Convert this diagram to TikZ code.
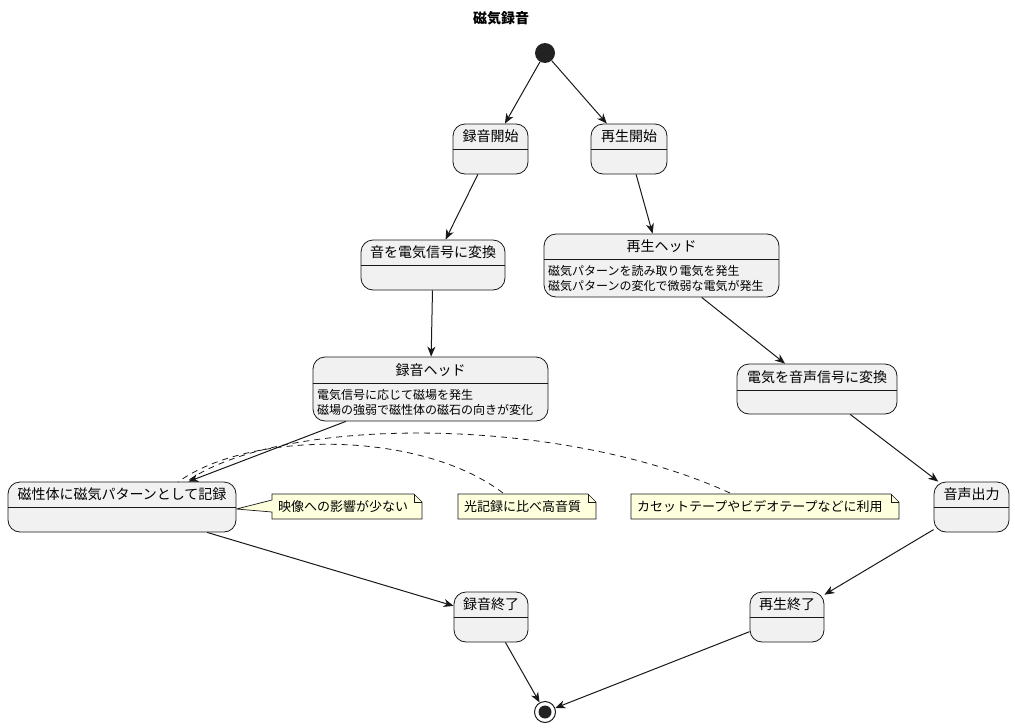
\documentclass[tikz,border=0pt]{standalone}
\usepackage{fontspec}
\setmainfont{Noto Sans CJK JP}
\usetikzlibrary{arrows.meta,backgrounds}
\definecolor{stfill}{HTML}{F1F1F1}
\definecolor{ln}{HTML}{181818}
\definecolor{dot}{HTML}{222222}
\definecolor{notefill}{HTML}{FEFFDD}
\tikzset{
 state/.style={draw=ln, fill=stfill, rounded corners=12pt, line width=0.8pt, inner sep=0},
 sttitle/.style={font=\fontsize{14}{16}\selectfont, inner sep=0},
 stdesc/.style={font=\fontsize{12}{15}\selectfont, align=left, anchor=west, inner sep=0},
 sepline/.style={draw=ln, line width=0.8pt},
 trans/.style={draw=ln, line width=1pt, -{Stealth[length=10pt,width=8pt,inset=3pt]}},
 notetext/.style={font=\fontsize{13}{15}\selectfont, anchor=west, inner sep=0},
 noteshape/.style={draw=ln, fill=notefill, line width=0.7pt},
 notelink/.style={draw=ln, line width=0.8pt, dash pattern=on 6pt off 5pt},
}
\begin{document}
\begin{tikzpicture}[x=1pt,y=-1pt]
\useasboundingbox (0,0) rectangle (1015,728);
% title
\node[font=\fontsize{14}{16}\selectfont\bfseries, inner sep=0] (title) at (501,18) {磁気録音};
% start / end
\node[circle, fill=dot, minimum size=20pt, inner sep=0] (start) at (545,53) {};
\node[circle, draw=ln, line width=1pt, minimum size=21pt, inner sep=0] (end) at (545,712) {};
\fill[dot] (end.center) circle (6.5pt);
% states
\node[state, minimum width=75pt, minimum height=50pt] (rs) at (490.5,149) {};
\draw[sepline] (rs.west |- 0,149) -- (rs.east |- 0,149);
\node[sttitle] (rst) at (490.5,136) {録音開始};

\node[state, minimum width=76pt, minimum height=50pt] (ps) at (629,149) {};
\draw[sepline] (ps.west |- 0,149) -- (ps.east |- 0,149);
\node[sttitle] (pst) at (629,136) {再生開始};

\node[state, minimum width=144pt, minimum height=50pt] (conv) at (433,265) {};
\draw[sepline] (conv.west |- 0,265) -- (conv.east |- 0,265);
\node[sttitle] (convt) at (433,252.5) {音を電気信号に変換};

\node[state, minimum width=235pt, minimum height=63pt] (ph) at (661.5,265.5) {};
\draw[sepline] (ph.west |- 0,259) -- (ph.east |- 0,259);
\node[sttitle] (pht) at (661.5,246) {再生ヘッド};
\node[stdesc] (phd) at (548,278.5) {磁気パターンを読み取り電気を発生\\磁気パターンの変化で微弱な電気が発生};

\node[state, minimum width=235pt, minimum height=64pt] (rh) at (430.5,389) {};
\draw[sepline] (rh.west |- 0,383) -- (rh.east |- 0,383);
\node[sttitle] (rht) at (430.5,370) {録音ヘッド};
\node[stdesc] (rhd) at (317,402.5) {電気信号に応じて磁場を発生\\磁場の強弱で磁性体の磁石の向きが変化};

\node[state, minimum width=160pt, minimum height=50pt] (denki) at (817,389) {};
\draw[sepline] (denki.west |- 0,390) -- (denki.east |- 0,390);
\node[sttitle] (denkit) at (817,377) {電気を音声信号に変換};

\node[state, minimum width=228pt, minimum height=50pt] (ms) at (122,507) {};
\draw[sepline] (ms.west |- 0,507) -- (ms.east |- 0,507);
\node[sttitle] (mst) at (122,494) {磁性体に磁気パターンとして記録};

\node[state, minimum width=75pt, minimum height=50pt] (out) at (971.5,507) {};
\draw[sepline] (out.west |- 0,507) -- (out.east |- 0,507);
\node[sttitle] (outt) at (971.5,494) {音声出力};

\node[state, minimum width=74pt, minimum height=50pt] (re) at (491,617) {};
\draw[sepline] (re.west |- 0,617) -- (re.east |- 0,617);
\node[sttitle] (ret) at (491,604.5) {録音終了};

\node[state, minimum width=74pt, minimum height=50pt] (pe) at (787,617) {};
\draw[sepline] (pe.west |- 0,617) -- (pe.east |- 0,617);
\node[sttitle] (pet) at (787,604.5) {再生終了};

% transitions
\draw[trans] (start) -- (rs);
\draw[trans] (start) -- (ps);
\draw[trans] (rs) -- (conv);
\draw[trans] (conv) -- (rh);
\draw[trans] (rh) -- (ms);
\draw[trans] (ms) -- (re);
\draw[trans] (re) -- (end);
\draw[trans] (ps) -- (ph);
\draw[trans] (ph) -- (denki);
\draw[trans] (denki) -- (out);
\draw[trans] (out) -- (pe);
\draw[trans] (pe) -- (end);

% notes
\node[notetext] (n1) at (278,506.5) {映像への影響が少ない};
\node[notetext] (n2) at (464,506.5) {光記録に比べ高音質};
\node[notetext] (n3) at (637,506.5) {カセットテープやビデオテープなどに利用};
\begin{scope}[on background layer]
\filldraw[noteshape] (272,494) -- (414,494) -- (422,502) -- (422,519) -- (272,519) -- (272,512) -- (ms.east |- 0,509) -- (272,500) -- cycle;
\draw[noteshape, fill=none] (414,494) -- (414,502) -- (422,502);
\filldraw[noteshape] (458,494) -- (588,494) -- (596,502) -- (596,519) -- (458,519) -- cycle;
\draw[noteshape, fill=none] (588,494) -- (588,502) -- (596,502);
\filldraw[noteshape] (631,494) -- (891,494) -- (899,502) -- (899,519) -- (631,519) -- cycle;
\draw[noteshape, fill=none] (891,494) -- (891,502) -- (899,502);
\end{scope}
\coordinate (n2a) at (503,493);
\coordinate (n3a) at (730,493);
\coordinate (msa) at (178,482);
\coordinate (msb) at (186,482);
\draw[notelink] (n2a) .. controls (420,430) and (250,430) .. (msa);
\draw[notelink] (n3a) .. controls (560,415) and (280,415) .. (msb);
\end{tikzpicture}
\end{document}
